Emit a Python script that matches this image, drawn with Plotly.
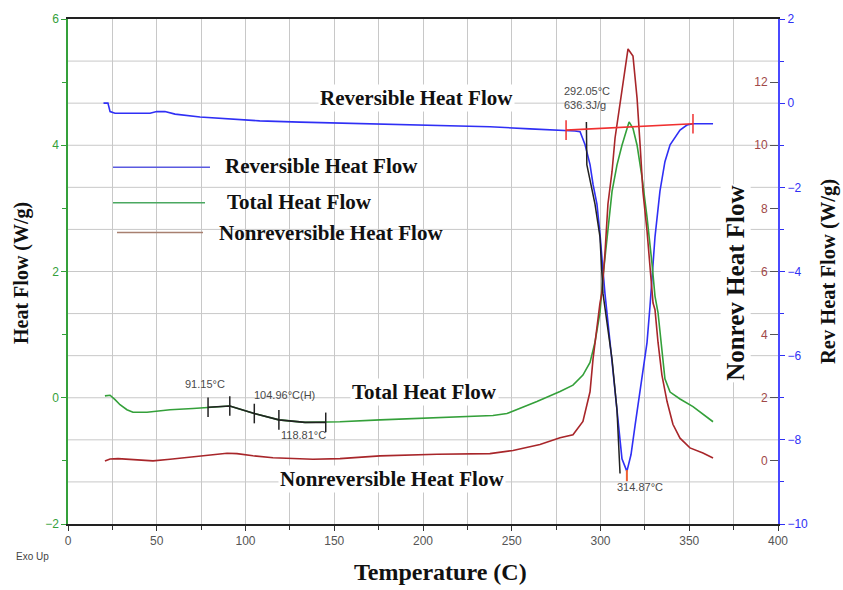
import plotly.graph_objects as go

# ---------------- data ----------------
# Reversible heat flow (right blue axis, W/g)
T_rev = [20, 22.5, 23.7, 26.5, 46.2, 50, 54.6, 60.3, 74.4, 108, 130.7, 175.8, 198.3,
         237.7, 260.3, 281.1, 285.6, 288.5, 291.3, 294.1, 295.8, 298.0, 299.7, 301.4,
         302.5, 306.5, 309.3, 312.1, 314.87, 317.2, 319.5, 322.3, 326.2, 327.9, 330.7,
         333.5, 336.3, 339.2, 344.8, 348.7, 352.1, 363.4]
V_rev = [0.0, 0.0, -0.2, -0.24, -0.24, -0.2, -0.2, -0.26, -0.33, -0.42, -0.45, -0.49, -0.52,
         -0.56, -0.61, -0.64, -0.66, -0.68, -0.99, -1.46, -1.93, -2.4, -3.1, -3.98,
         -4.52, -6.14, -7.3, -8.45, -8.75, -8.35, -7.65, -6.87, -5.69, -4.82, -3.18,
         -2.09, -1.39, -0.99, -0.64, -0.52, -0.49, -0.49]

# Total heat flow (left green axis, W/g)
T_tot = [20.8, 23.7, 26.5, 29.3, 33.2, 36.6, 44.5, 50.1, 57.5, 70.4, 78.9, 91.15, 104.96,
         118.81, 133.5, 145.2, 153.2, 175.8, 201.1, 226.5, 239.4, 247.3, 254.6, 264.2,
         277.2, 284.5, 290.1, 294.1, 296.9, 299.7, 301.4, 303.7, 306.5, 309.3, 312.1,
         315.0, 316.1, 318.3, 320.6, 323.4, 326.2, 329.0, 330.7, 332.4, 334.6, 336.3,
         339.2, 344.8, 352.1, 360.0, 363.4]
V_tot = [0.03, 0.04, -0.03, -0.11, -0.19, -0.23, -0.23, -0.21, -0.19, -0.17, -0.15, -0.13, -0.25,
         -0.35, -0.39, -0.39, -0.38, -0.35, -0.32, -0.30, -0.28, -0.25, -0.17, -0.06,
         0.10, 0.20, 0.36, 0.56, 0.88, 1.35, 1.92, 2.55, 3.27, 3.69, 4.0,
         4.27, 4.37, 4.27, 4.0, 3.49, 2.86, 2.13, 1.61, 1.35, 0.77, 0.30,
         0.09, -0.02, -0.14, -0.30, -0.38]

# Nonreversible heat flow (inner right axis)
T_nr = [20.8, 23.7, 28.2, 33.2, 40.6, 47.9, 57.5, 70.4, 80.0, 89.6, 95.2, 104.2, 115.5,
        126.8, 138.0, 153.2, 175.8, 207.9, 237.7, 250.7, 262.0, 265.9, 277.2, 284.5,
        290.1, 294.1, 295.8, 298.0, 299.7, 300.8, 302.5, 304.2, 306.5, 308.2, 311.0,
        313.8, 315.5, 318.3, 320.6, 322.3, 323.9, 326.2, 327.9, 329.6, 330.7, 332.4,
        334.6, 337.5, 340.8, 344.8, 350.4, 357.7, 363.4]
V_nr = [0.0, 0.06, 0.07, 0.05, 0.03, 0.0, 0.05, 0.13, 0.18, 0.24, 0.23, 0.16, 0.10,
        0.07, 0.05, 0.07, 0.16, 0.21, 0.23, 0.33, 0.47, 0.52, 0.73, 0.83,
        1.25, 2.19, 3.23, 4.28, 5.0, 5.32, 6.57, 8.14, 9.17, 10.23, 11.27,
        12.3, 13.05, 12.83, 11.49, 10.02, 8.54, 7.29, 6.04, 5.0, 4.79, 3.76,
        2.72, 1.88, 1.16, 0.72, 0.41, 0.25, 0.09]

# Glass-transition analysis on total heat flow
T_tg = [78.9, 91.15, 104.96, 118.81, 133.5, 145.2]
V_tg = [-0.15, -0.13, -0.25, -0.35, -0.39, -0.39]
T_tg_marks = [78.9, 91.15, 104.96, 118.81, 145.2]
V_tg_marks = [-0.15, -0.13, -0.25, -0.35, -0.39]

# Onset tangent on reversible heat flow
T_on = [292.05, 292.3, 296.9, 299.7, 301.4, 306.5, 309.3, 311.0]
V_on = [-0.45, -1.46, -2.4, -3.18, -4.52, -6.09, -7.3, -8.8]

# Integration baseline on reversible heat flow
T_base = [280.6, 300, 320, 340, 352.1]
V_base = [-0.64, -0.60, -0.55, -0.52, -0.49]
T_base_marks = [280.6, 352.1]
V_base_marks = [-0.64, -0.49]
T_min = [314.87]
V_min = [-8.85]

x_range = [0, 400]
left_ticks = [-2, 0, 2, 4, 6]
rev_ticks = [2, 0, -2, -4, -6, -8, -10]
rev_grid = [-9, -8, -7, -6, -5, -4, -3, -2, -1, 0, 1]
nr_ticks = [0, 2, 4, 6, 8, 10, 12]

# ---------------- layout geometry ----------------
W, H = 843, 590
L, R, TOP, BOT = 68, 778, 13, 524
PW, PH = R - L, BOT - TOP


def px(xp):
    return (xp - L) / PW


def py(yp):
    return (BOT - yp) / PH


BLUE = "#2f2ff5"
GREEN = "#34a03a"
RED = "#a8262a"
SERIF = "Liberation Serif, Times New Roman, serif"
SANS = "Liberation Sans Narrow, Liberation Sans, Arial, sans-serif"
GRID = "#c8c8c8"

fig = go.Figure()

# horizontal grid (one line per unit of the reversible axis), drawn first so it sits under all curves
grid_x, grid_y = [], []
for gv in rev_grid:
    grid_x += [x_range[0], x_range[1], None]
    grid_y += [gv, gv, None]
fig.add_trace(go.Scatter(x=grid_x, y=grid_y, mode="lines", line=dict(color=GRID, width=1),
                         yaxis="y2", hoverinfo="skip", showlegend=False))

fig.add_trace(go.Scatter(x=T_rev, y=V_rev, mode="lines", line=dict(color=BLUE, width=1.6),
                         yaxis="y2", showlegend=False))
fig.add_trace(go.Scatter(x=T_tot, y=V_tot, mode="lines", line=dict(color=GREEN, width=1.6),
                         yaxis="y", showlegend=False))
fig.add_trace(go.Scatter(x=T_nr, y=V_nr, mode="lines", line=dict(color=RED, width=1.6),
                         yaxis="y3", showlegend=False))
# analysis overlays
fig.add_trace(go.Scatter(x=T_tg, y=V_tg, mode="lines", line=dict(color="#222", width=1.6),
                         yaxis="y", showlegend=False))
fig.add_trace(go.Scatter(x=T_tg_marks, y=V_tg_marks, mode="markers",
                         marker=dict(symbol="line-ns-open", size=14, color="#222", line=dict(color="#222", width=1.5)),
                         yaxis="y", showlegend=False))
fig.add_trace(go.Scatter(x=T_on, y=V_on, mode="lines", line=dict(color="#222", width=1.5),
                         yaxis="y4", showlegend=False))
fig.add_trace(go.Scatter(x=T_base, y=V_base, mode="lines", line=dict(color="#f03030", width=1.6),
                         yaxis="y4", showlegend=False))
fig.add_trace(go.Scatter(x=T_base_marks, y=V_base_marks, mode="markers",
                         marker=dict(symbol="line-ns-open", size=14, color="#f03030", line=dict(color="#f03030", width=1.5)),
                         yaxis="y4", showlegend=False))
fig.add_trace(go.Scatter(x=T_min, y=V_min, mode="markers",
                         marker=dict(symbol="line-ns-open", size=8, color="#f06030", line=dict(color="#f06030", width=2)),
                         yaxis="y4", showlegend=False))

fig.update_layout(
    width=W, height=H,
    margin=dict(l=L, r=W - R, t=TOP, b=H - BOT),
    paper_bgcolor="white", plot_bgcolor="white",
    xaxis=dict(range=x_range, dtick=50, tick0=0, ticks="outside", ticklen=5, tickcolor="#333",
               showline=True, linecolor="#222", linewidth=1.5, mirror=True,
               showgrid=True, gridcolor=GRID, gridwidth=1, zeroline=False,
               minor=dict(dtick=25, tick0=0, ticks="outside", ticklen=4, tickcolor="#333",
                          showgrid=True, gridcolor=GRID, gridwidth=1),
               tickfont=dict(family=SANS, size=12, color="#555")),
    yaxis2=dict(range=[-10, 2], dtick=2, tick0=0, side="right", anchor="x",
                ticks="outside", ticklen=5, tickcolor=BLUE,
                showline=True, linecolor="#4a4aff", linewidth=2, zeroline=False,
                showgrid=False,
                minor=dict(dtick=1, tick0=0, ticks="outside", ticklen=4, tickcolor=BLUE, showgrid=False),
                tickfont=dict(family=SANS, size=12, color=BLUE)),
    yaxis=dict(range=[-2, 6], dtick=2, tick0=0, overlaying="y2", side="left", anchor="x",
               ticks="outside", ticklen=5, tickcolor=GREEN,
               showline=True, linecolor=GREEN, linewidth=1.5, showgrid=False, zeroline=False,
               minor=dict(dtick=1, tick0=0, ticks="outside", ticklen=4, tickcolor=GREEN, showgrid=False),
               tickfont=dict(family=SANS, size=12, color=GREEN)),
    # nonreversible axis sits on the right frame with ticks and labels pointing inwards
    yaxis3=dict(range=[-2, 14], tickvals=nr_ticks, overlaying="y2", side="left", anchor="free",
                position=1.0, ticks="outside", ticklen=8, tickcolor="#555",
                showline=False, showgrid=False, zeroline=False,
                tickfont=dict(family=SANS, size=12, color="#a04848")),
    # same scale as rev axis, used only to draw analysis overlays on top
    yaxis4=dict(range=[-10, 2], overlaying="y2", side="right", anchor="x", visible=False,
                showgrid=False, zeroline=False),
)

ann = []


def add_text(text, xp, yp, size, color="#111", family=SERIF, bold=False, xanchor="center",
             yanchor="middle", angle=0, bg=None, align="center"):
    t = f"<b>{text}</b>" if bold else text
    d = dict(text=t, x=px(xp), y=py(yp), xref="paper", yref="paper", showarrow=False,
             xanchor=xanchor, yanchor=yanchor, textangle=angle, align=align,
             font=dict(family=family, size=size, color=color))
    if bg:
        d["bgcolor"] = bg
        d["borderpad"] = 1
    ann.append(d)


# axis titles
add_text("Heat Flow (W/g)", 22, 270, 20, bold=True, angle=-90)
add_text("Temperature (C)", 440, 573, 24, bold=True)
add_text("Nonrev Heat Flow", 736, 281, 25, bold=True, angle=-90, bg="white")
add_text("Rev Heat Flow (W/g)", 828, 268, 20.5, bold=True, angle=-90)
add_text("Exo Up", 14, 557, 10, color="#444", family=SANS, xanchor="left")

# in-plot curve labels
add_text("Reversible Heat Flow", 416, 93, 21, bold=True, bg="white")
add_text("Total Heat Flow", 424, 390, 21, bold=True, bg="white")
add_text("Nonreversible Heat Flow", 392, 478, 21, bold=True, bg="white")

# legend texts
add_text("Reversible Heat Flow", 223, 162, 21, bold=True, xanchor="left")
add_text("Total Heat Flow", 225, 198, 21, bold=True, xanchor="left")
add_text("Nonreversible Heat Flow", 217, 230, 21, bold=True, xanchor="left")

# analysis labels
AC = "#4a4a4a"
add_text("91.15°C", 205, 382, 11, color=AC, family=SANS)
add_text("104.96°C(H)", 284, 393, 11, color=AC, family=SANS)
add_text("118.81°C", 303, 434, 11, color=AC, family=SANS)
add_text("292.05°C<br>636.3J/g", 562, 93, 11, color=AC, family=SANS, xanchor="left", align="left")
add_text("314.87°C", 640, 487, 11, color=AC, family=SANS)

fig.update_layout(annotations=ann)

# legend sample lines
for (x0, x1, yy, col) in [(113, 210, 163, "#5a5ae0"), (113, 205, 199, "#4aa860"), (117, 203, 229, "#a88070")]:
    fig.add_shape(type="line", xref="paper", yref="paper", x0=px(x0), x1=px(x1), y0=py(yy), y1=py(yy),
                  line=dict(color=col, width=1.5))

fig.write_html("out.html")
